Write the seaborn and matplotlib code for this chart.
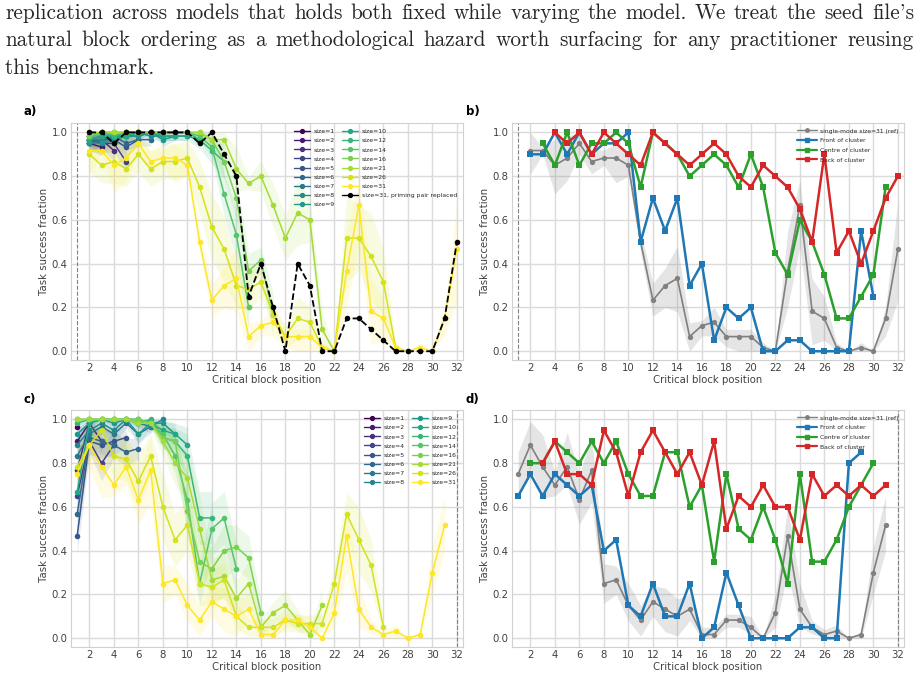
import matplotlib
matplotlib.use('Agg')
import matplotlib.pyplot as plt
from matplotlib.lines import Line2D
import seaborn as sns
import pandas as pd
import numpy as np

# ---------------- data ----------------
sizes = [1, 2, 3, 4, 5, 6, 7, 8, 9, 10, 12, 14, 16, 21, 26, 31]

# panel a: positions 2..size+1
a1 = [0.983]
a2 = [0.95, 0.933]
a3 = [0.967, 0.967, 0.917]
a4 = [0.967, 0.95, 0.95, 0.867]
a5 = [0.95, 0.967, 0.967, 0.933, 0.967]
a6 = [0.95, 0.967, 0.983, 0.95, 0.967, 0.967]
a7 = [0.967, 0.983, 0.967, 0.983, 0.983, 1.0, 0.983]
a8 = [0.967, 0.967, 0.983, 0.983, 1.0, 0.983, 0.983, 0.983]
a9 = [0.95, 0.95, 0.967, 0.983, 0.983, 1.0, 0.967, 0.983, 0.983]
a10 = [0.967, 0.983, 0.983, 0.983, 1.0, 1.0, 0.983, 0.983, 0.983, 0.967]
a12 = [0.983, 1.0, 0.983, 1.0, 1.0, 1.0, 1.0, 1.0, 1.0, 0.967, 0.917, 0.867]
a14 = [0.983, 1.0, 1.0, 1.0, 1.0, 1.0, 1.0, 1.0, 1.0, 0.983, 0.933, 0.717, 0.533, 0.2]
a16 = [0.983, 1.0, 1.0, 1.0, 1.0, 1.0, 1.0, 1.0, 1.0, 1.0, 0.967, 0.867, 0.7, 0.367, 0.417, 0.167]
a21 = [1.0, 1.0, 1.0, 1.0, 1.0, 1.0, 1.0, 1.0, 1.0, 1.0, 0.967, 0.967, 0.833, 0.767, 0.8,
       0.667, 0.517, 0.633, 0.6, 0.1, 0.0]
a26 = [0.9, 0.85, 0.867, 0.833, 0.9, 0.833, 0.867, 0.867, 0.883, 0.75, 0.567, 0.467, 0.3,
       0.283, 0.317, 0.167, 0.067, 0.15, 0.133, 0.017, 0.0, 0.517, 0.517, 0.433, 0.317, 0.017]
a31 = [0.917, 0.917, 0.85, 0.883, 0.95, 0.867, 0.883, 0.883, 0.85, 0.5, 0.233, 0.3, 0.333,
       0.067, 0.117, 0.133, 0.067, 0.067, 0.067, 0.017, 0.0, 0.367, 0.667, 0.183, 0.15,
       0.017, 0.0, 0.017, 0.0, 0.15, 0.467]
a31_lo = [0.81, 0.90, 0.72, 0.78, 0.90, 0.81, 0.85, 0.77, 0.80, 0.45, 0.16, 0.20, 0.18, 0.0,
          0.07, 0.07, 0.02, 0.0, 0.0, 0.0, 0.0, 0.20, 0.48, 0.03, 0.05, 0.0, 0.0, 0.0, 0.0,
          0.07, 0.23]
a31_hi = [1.0, 0.93, 0.97, 0.98, 1.0, 0.92, 0.92, 0.95, 0.90, 0.55, 0.31, 0.38, 0.48, 0.13,
          0.14, 0.20, 0.10, 0.10, 0.10, 0.04, 0.0, 0.55, 0.78, 0.33, 0.25, 0.04, 0.0, 0.04,
          0.0, 0.20, 0.69]
a_primed = [1.0, 1.0, 0.95, 1.0, 1.0, 1.0, 1.0, 1.0, 1.0, 0.95, 1.0, 0.9, 0.8, 0.25, 0.4,
            0.2, 0.0, 0.4, 0.3, 0.0, 0.0, 0.15, 0.15, 0.1, 0.05, 0.0, 0.0, 0.0, 0.0, 0.15, 0.5]

a1_err = [0.02]
a2_err = [0.03, 0.04]
a3_err = [0.03, 0.04, 0.05]
a4_err = [0.03, 0.04, 0.04, 0.05]
a5_err = [0.04, 0.03, 0.03, 0.04, 0.03]
a6_err = [0.04, 0.03, 0.02, 0.03, 0.03, 0.03]
a7_err = [0.03, 0.02, 0.03, 0.02, 0.02, 0.0, 0.02]
a8_err = [0.03, 0.03, 0.02, 0.02, 0.0, 0.02, 0.02, 0.02]
a9_err = [0.04, 0.04, 0.03, 0.02, 0.02, 0.0, 0.03, 0.02, 0.02]
a10_err = [0.03, 0.02, 0.02, 0.02, 0.0, 0.0, 0.02, 0.02, 0.02, 0.04]
a12_err = [0.02, 0, 0.02, 0, 0, 0, 0, 0, 0, 0.04, 0.06, 0.08]
a14_err = [0.02, 0, 0, 0, 0, 0, 0, 0, 0, 0.02, 0.05, 0.1, 0.12, 0.1]
a16_err = [0.02, 0, 0, 0, 0, 0, 0, 0, 0, 0, 0.04, 0.08, 0.1, 0.08, 0.06, 0.1]
a21_err = [0, 0, 0, 0, 0, 0, 0, 0, 0, 0, 0.03, 0.03, 0.1, 0.03, 0.07, 0.1, 0.1, 0.15, 0.1,
           0.08, 0]
a26_err = [0.08, 0.08, 0.1, 0.08, 0.08, 0.08, 0.08, 0.08, 0.08, 0.12, 0.15, 0.15, 0.1, 0.1,
           0.07, 0.05, 0.05, 0.1, 0.07, 0.02, 0, 0.2, 0.15, 0.2, 0.15, 0.02]

# panel c: positions 1..size
c1 = [0.967]
c2 = [0.9, 0.983]
c3 = [0.767, 0.983, 0.9]
c4 = [0.65, 0.9, 0.8, 0.883]
c5 = [0.467, 0.9, 0.883, 0.9, 0.917]
c6 = [0.567, 0.917, 0.9, 0.883, 0.85, 0.867]
c7 = [0.833, 0.933, 0.967, 0.933, 0.983, 0.933, 0.967]
c8 = [0.883, 0.95, 0.983, 0.95, 1.0, 0.983, 0.967, 1.0]
c9 = [0.933, 0.983, 1.0, 0.983, 1.0, 0.933, 0.983, 0.983, 0.933]
c10 = [0.667, 0.983, 1.0, 1.0, 1.0, 1.0, 0.983, 0.95, 0.933, 0.883]
c12 = [0.983, 1.0, 1.0, 1.0, 1.0, 0.983, 1.0, 0.917, 0.9, 0.833, 0.55, 0.55]
c14 = [1.0, 1.0, 1.0, 1.0, 1.0, 1.0, 0.983, 0.933, 0.833, 0.633, 0.25, 0.5, 0.55, 0.317]
c16 = [1.0, 1.0, 1.0, 1.0, 1.0, 1.0, 0.983, 0.917, 0.9, 0.583, 0.35, 0.317, 0.4, 0.417,
       0.367, 0.117]
c21 = [1.0, 1.0, 1.0, 1.0, 1.0, 0.983, 0.983, 0.9, 0.8, 0.733, 0.5, 0.267, 0.283, 0.183,
       0.25, 0.05, 0.117, 0.15, 0.083, 0.017, 0.15]
c26 = [0.783, 0.883, 0.95, 0.833, 0.817, 0.717, 0.833, 0.6, 0.45, 0.517, 0.25, 0.233, 0.267,
       0.1, 0.05, 0.05, 0.05, 0.083, 0.067, 0.067, 0.067, 0.25, 0.567, 0.45, 0.333, 0.05]
c31 = [0.75, 0.883, 0.783, 0.7, 0.783, 0.633, 0.767, 0.25, 0.267, 0.15, 0.083, 0.167, 0.133,
       0.1, 0.133, 0.017, 0.017, 0.083, 0.083, 0.05, 0.0, 0.117, 0.467, 0.133, 0.05, 0.017,
       0.033, 0.0, 0.017, 0.3, 0.517]
c31_lo = [0.63, 0.78, 0.64, 0.65, 0.70, 0.52, 0.62, 0.16, 0.20, 0.08, 0.01, 0.10, 0.03, 0.01,
          0.08, 0.0, 0.0, 0.05, 0.05, 0.02, 0.0, 0.05, 0.30, 0.05, 0.02, 0.0, 0.0, 0.0, 0.0,
          0.20, 0.40]
c31_hi = [0.85, 0.99, 0.93, 0.76, 0.94, 0.75, 0.92, 0.34, 0.33, 0.25, 0.15, 0.24, 0.23, 0.18,
          0.20, 0.05, 0.05, 0.11, 0.11, 0.10, 0.0, 0.20, 0.60, 0.25, 0.08, 0.04, 0.06, 0.0,
          0.03, 0.42, 0.65]

c1_err = [0.03]
c2_err = [0.06, 0.02]
c3_err = [0.08, 0.02, 0.05]
c4_err = [0.1, 0.05, 0.08, 0.06]
c5_err = [0.08, 0.06, 0.06, 0.06, 0.05]
c6_err = [0.1, 0.05, 0.06, 0.06, 0.06, 0.05]
c7_err = [0.08, 0.05, 0.03, 0.05, 0.02, 0.04, 0.03]
c8_err = [0.06, 0.04, 0.02, 0.04, 0, 0.02, 0.03, 0]
c9_err = [0.05, 0.02, 0, 0.02, 0, 0.05, 0.02, 0.02, 0.05]
c10_err = [0.1, 0.02, 0, 0, 0, 0, 0.02, 0.04, 0.05, 0.08]
c12_err = [0.02, 0, 0, 0, 0, 0.02, 0, 0.05, 0.06, 0.1, 0.12, 0.12]
c14_err = [0, 0, 0, 0, 0, 0, 0.02, 0.05, 0.08, 0.12, 0.1, 0.12, 0.12, 0.12]
c16_err = [0, 0, 0, 0, 0, 0, 0.02, 0.05, 0.06, 0.12, 0.1, 0.1, 0.12, 0.1, 0.1, 0.06]
c21_err = [0, 0, 0, 0, 0, 0.02, 0.02, 0.07, 0.1, 0.12, 0.15, 0.1, 0.1, 0.08, 0.1, 0.04, 0.05,
           0.07, 0.05, 0.02, 0.08]
c26_err = [0.08, 0.08, 0.05, 0.1, 0.1, 0.12, 0.1, 0.15, 0.12, 0.12, 0.1, 0.08, 0.08, 0.06,
           0.04, 0.04, 0.04, 0.05, 0.04, 0.04, 0.04, 0.08, 0.1, 0.15, 0.12, 0.04]

# panel b: cluster placement, single run
b_front = [0.9, 0.9, 1.0, 0.9, 1.0, 0.9, 0.95, 0.95, 1.0, 0.5, 0.7, 0.55, 0.7, 0.3, 0.4, 0.05,
           0.2, 0.15, 0.2, 0.0, 0.0, 0.05, 0.05, 0.0, 0.0, 0.0, 0.0, 0.55, 0.25]      # 2..30
b_centre = [0.95, 0.85, 1.0, 0.85, 0.95, 0.95, 1.0, 0.95, 0.75, 1.0, 0.95, 0.9, 0.8, 0.85,
            0.9, 0.85, 0.75, 0.9, 0.75, 0.45, 0.35, 0.6, 0.5, 0.35, 0.15, 0.15, 0.25, 0.35,
            0.75]                                                                     # 3..31
b_back = [1.0, 0.95, 1.0, 0.9, 1.0, 0.95, 0.9, 0.85, 1.0, 0.95, 0.9, 0.85, 0.9, 0.95, 0.9,
          0.8, 0.75, 0.85, 0.8, 0.75, 0.65, 0.5, 0.9, 0.45, 0.55, 0.4, 0.55, 0.7, 0.8]  # 4..32

# panel d
d_front = [0.65, 0.75, 0.65, 0.75, 0.7, 0.65, 0.7, 0.4, 0.45, 0.15, 0.1, 0.25, 0.1, 0.1, 0.25,
           0.0, 0.05, 0.3, 0.15, 0.0, 0.0, 0.0, 0.0, 0.05, 0.05, 0.0, 0.0, 0.8, 0.85]  # 1..29
d_centre = [0.8, 0.8, 0.9, 0.85, 0.8, 0.9, 0.8, 0.9, 0.75, 0.65, 0.65, 0.85, 0.85, 0.6, 0.7,
            0.35, 0.75, 0.5, 0.45, 0.6, 0.45, 0.25, 0.75, 0.35, 0.35, 0.45, 0.6, 0.7, 0.8]  # 2..30
d_back = [0.8, 0.9, 0.75, 0.75, 0.7, 0.95, 0.85, 0.65, 0.85, 0.95, 0.85, 0.75, 0.85, 0.7, 0.9,
          0.5, 0.65, 0.6, 0.7, 0.6, 0.6, 0.45, 0.75, 0.65, 0.7, 0.65, 0.7, 0.65, 0.7]  # 3..31

a_vals = [a1, a2, a3, a4, a5, a6, a7, a8, a9, a10, a12, a14, a16, a21, a26, a31]
a_errs = [a1_err, a2_err, a3_err, a4_err, a5_err, a6_err, a7_err, a8_err, a9_err, a10_err,
          a12_err, a14_err, a16_err, a21_err, a26_err, None]
c_vals = [c1, c2, c3, c4, c5, c6, c7, c8, c9, c10, c12, c14, c16, c21, c26, c31]
c_errs = [c1_err, c2_err, c3_err, c4_err, c5_err, c6_err, c7_err, c8_err, c9_err, c10_err,
          c12_err, c14_err, c16_err, c21_err, c26_err, None]

# cmr10 draws the ASCII quote as a closing quote, as TeX does
paragraph = [
    "replication across models that holds both fixed while varying the model. We treat the seed file's",
    "natural block ordering as a methodological hazard worth surfacing for any practitioner reusing",
    "this benchmark.",
]

# ---------------- style ----------------
sns.set_style('whitegrid', {'axes.edgecolor': '.82', 'grid.color': '.86'})
plt.rcParams['font.family'] = ['DejaVu Sans']
plt.rcParams['xtick.labelsize'] = 7.3
plt.rcParams['ytick.labelsize'] = 7.3
plt.rcParams['axes.labelsize'] = 7.3
plt.rcParams['axes.labelcolor'] = '.25'
plt.rcParams['xtick.color'] = '.25'
plt.rcParams['ytick.color'] = '.25'
plt.rcParams['grid.linewidth'] = 1.0

W, H = 919, 677
fig = plt.figure(figsize=(W / 100, H / 100), dpi=100)

def box(l, t, r, b):
    return [l / W, 1 - b / H, (r - l) / W, (b - t) / H]

ax_a = fig.add_axes(box(71, 123, 463, 360))
ax_b = fig.add_axes(box(512, 123, 904, 360))
ax_c = fig.add_axes(box(71, 410, 463, 647))
ax_d = fig.add_axes(box(512, 410, 904, 647))

colors = plt.cm.viridis(np.linspace(0, 1, len(sizes)))
palette = {f'size={s}': colors[i] for i, s in enumerate(sizes)}


def size_panel(ax, vals, errs, lo31, hi31, start):
    rows = []
    for s, v, e in zip(sizes, vals, errs):
        x = np.arange(start, start + len(v))
        if e is None:
            lo, hi = lo31, hi31
        else:
            lo = np.clip(np.array(v) - np.array(e), 0, 1)
            hi = np.clip(np.array(v) + np.array(e), 0, 1)
        ax.fill_between(x, lo, hi, color=palette[f'size={s}'], alpha=0.13, lw=0)
        for xi, yi in zip(x, v):
            rows.append({'pos': xi, 'frac': yi, 'series': f'size={s}'})
    df = pd.DataFrame(rows)
    sns.lineplot(data=df, x='pos', y='frac', hue='series', palette=palette, marker='o',
                 markersize=4, markeredgewidth=0, linewidth=1.1, errorbar=None,
                 legend=False, ax=ax)


def cluster_panel(ax, ref, lo, hi, ref_start, front, centre, back, f_start):
    xr = np.arange(ref_start, ref_start + len(ref))
    ax.fill_between(xr, lo, hi, color='grey', alpha=0.2, lw=0)
    sns.lineplot(x=xr, y=ref, color='grey', marker='o', markersize=3.8, markeredgewidth=0,
                 linewidth=1.2, ax=ax)
    for vals, off, col in [(front, 0, '#1f77b4'), (centre, 1, '#2ca02c'), (back, 2, '#d62728')]:
        x = np.arange(f_start + off, f_start + off + len(vals))
        sns.lineplot(x=x, y=vals, color=col, marker='s', markersize=5, markeredgewidth=0,
                     linewidth=1.8, ax=ax)
    handles = [
        Line2D([], [], color='grey', marker='o', markersize=2.5, lw=1.0),
        Line2D([], [], color='#1f77b4', marker='s', markersize=3.5, lw=1.6),
        Line2D([], [], color='#2ca02c', marker='s', markersize=3.5, lw=1.6),
        Line2D([], [], color='#d62728', marker='s', markersize=3.5, lw=1.6),
    ]
    labels = ['single-mode size=31 (ref)', 'Front of cluster', 'Centre of cluster',
              'Back of cluster']
    ax.legend(handles, labels, loc='upper right', fontsize=4.3, frameon=False,
              handlelength=3.2, handletextpad=0.6, labelspacing=0.75, borderaxespad=0.5)


size_panel(ax_a, a_vals, a_errs, a31_lo, a31_hi, 2)
ax_a.plot(np.arange(2, 2 + len(a_primed)), a_primed, color='black', ls='--', lw=1.3,
          marker='o', markersize=4, markeredgewidth=0)
ax_a.axvline(1, color='grey', ls='--', lw=0.8)

size_panel(ax_c, c_vals, c_errs, c31_lo, c31_hi, 1)
ax_c.axvline(32, color='grey', ls='--', lw=0.8)

cluster_panel(ax_b, a31, a31_lo, a31_hi, 2, b_front, b_centre, b_back, 2)
ax_b.axvline(1, color='grey', ls='--', lw=0.8)
cluster_panel(ax_d, c31, c31_lo, c31_hi, 1, d_front, d_centre, d_back, 1)
ax_d.axvline(32, color='grey', ls='--', lw=0.8)

# legends for size panels
h_a = [Line2D([], [], color=palette[f'size={s}'], marker='o', markersize=2.8, lw=1.0)
       for s in sizes]
l_a = [f'size={s}' for s in sizes]
h_a.append(Line2D([], [], color='black', marker='o', markersize=2.8, lw=1.0))
l_a.append('size=31, priming pair replaced')
leg_kw = dict(loc='upper right', ncol=2, fontsize=4.4, frameon=False, handlelength=2.6,
              handletextpad=0.6, labelspacing=0.62, columnspacing=1.2, borderaxespad=0.6)
ax_a.legend(h_a, l_a, **leg_kw)
ax_c.legend(h_a[:-1], l_a[:-1], **leg_kw)

for ax in [ax_a, ax_b, ax_c, ax_d]:
    ax.set_xlim(0.5, 32.5)
    ax.set_ylim(-0.04, 1.043)
    ax.set_xticks(range(2, 33, 2))
    ax.set_yticks([0, 0.2, 0.4, 0.6, 0.8, 1.0])
    ax.set_xlabel('Critical block position', labelpad=1)
    ax.set_ylabel('Task success fraction', labelpad=2)
    ax.tick_params(length=0, pad=2.5)

for lab, x, y in [('a)', 23, 112), ('b)', 466, 112), ('c)', 23, 400), ('d)', 466, 400)]:
    fig.text(x / W, 1 - y / H, lab, fontsize=8.5, fontweight='bold', va='center', ha='left',
             color='black')

# paragraph text, justified like the LaTeX page
renderer = fig.canvas.get_renderer()
x0, x1 = 5, 914
fs = 15.3
for i, line in enumerate(paragraph):
    y = 1 - (19 + 27.3 * i) / H
    if i == len(paragraph) - 1:
        fig.text(x0 / W, y, line, fontsize=fs, family='cmr10', va='baseline')
        continue
    words = line.split()
    tx = [fig.text(0, y, w, fontsize=fs, family='cmr10', va='baseline') for w in words]
    widths = [t.get_window_extent(renderer).width for t in tx]
    gap = (x1 - x0 - sum(widths)) / (len(words) - 1)
    x = x0
    for t, w in zip(tx, widths):
        t.set_x(x / W)
        x += w + gap

fig.savefig('out.png', dpi=100)
